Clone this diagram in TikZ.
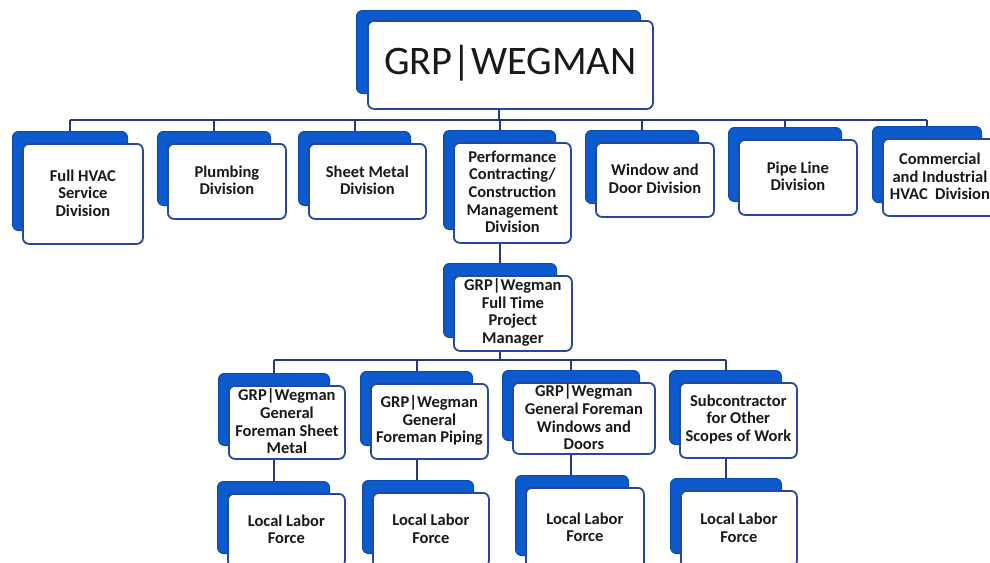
\documentclass[tikz,border=0pt]{standalone}
\usepackage{fontspec}
\setmainfont{Carlito}
\usetikzlibrary{calc}
\definecolor{backblue}{RGB}{12,90,204}
\definecolor{edgeblue}{RGB}{38,72,158}
\definecolor{linenavy}{RGB}{34,58,128}
\definecolor{txt}{RGB}{25,25,25}
\tikzset{
  backbox/.style={draw=backblue!85!black, line width=1pt, fill=backblue, rounded corners=6pt, inner sep=0pt},
  frontbox/.style={draw=edgeblue, line width=1.8pt, fill=white, rounded corners=6pt, inner sep=0pt},
  lbl/.style={align=center, text=txt, font=\fontsize{16.5}{17.6}\selectfont\bfseries, inner sep=0pt},
  conn/.style={draw=linenavy, line width=2pt}
}
% #1 name, #2 x1, #3 y1, #4 x2, #5 y2, #6 text
\newcommand\orgbox[6]{%
  \node[backbox, anchor=north west, minimum width={(#4-#2-5)*1pt}, minimum height={(#5-#3-1)*1pt}] (#1b) at ({#2-10},{#3-12}) {};
  \node[frontbox, anchor=north west, minimum width={(#4-#2)*1pt}, minimum height={(#5-#3)*1pt}] (#1f) at (#2,#3) {};
  \node[lbl] (#1t) at ($(#1f.center)+(0,-1)$) {#6};
}
\begin{document}
\begin{tikzpicture}[x=1pt,y=-1pt]
\useasboundingbox (0,0) rectangle (990,562);
\clip (0,0) rectangle (990,562);
\fill[white] (0,0) rectangle (990,562);

% title
\node[backbox, anchor=north west, minimum width=284pt, minimum height=83pt] (tb) at (356,10) {};
\node[frontbox, anchor=north west, minimum width=285pt, minimum height=88pt] (tf) at (367,20) {};
\node[text=txt, font=\fontsize{40.5}{42}\selectfont, inner sep=0pt] (tt) at ($(tf.center)+(0,-2)$) {GRP|WEGMAN};

% row 1
\orgbox{d1}{22}{143}{142}{243}{Full HVAC\\Service\\Division}
\orgbox{d2}{167}{143}{285}{218}{Plumbing\\Division}
\orgbox{d3}{308}{143}{425}{218}{Sheet Metal\\Division}
\orgbox{d4}{453}{142}{570}{242}{Performance\\Contracting/\\Construction\\Management\\Division}
\orgbox{d5}{595}{142}{713}{216}{Window and\\Door Division}
\orgbox{d6}{738}{139}{856}{214}{Pipe Line\\Division}
\orgbox{d7}{882}{138}{996}{215}{Commercial\\and Industrial\\HVAC~ Division}

% project manager
\orgbox{pm}{453}{275}{571}{350}{GRP|Wegman\\Full Time\\Project\\Manager}

% foremen
\orgbox{fa}{228}{385}{344}{458}{GRP|Wegman\\General\\Foreman Sheet\\Metal}
\orgbox{fb}{370}{383}{487}{458}{GRP|Wegman\\General\\Foreman Piping}
\orgbox{fc}{512}{382}{654}{453}{GRP|Wegman\\General Foreman\\Windows and\\Doors}
\orgbox{fd}{679}{382}{796}{457}{Subcontractor\\for Other\\Scopes of Work}

% local labor
\orgbox{la}{227}{493}{344}{566}{Local Labor\\Force}
\orgbox{lb}{372}{492}{488}{566}{Local Labor\\Force}
\orgbox{lc}{525}{487}{643}{568}{Local Labor\\Force}
\orgbox{ld}{680}{490}{796}{566}{Local Labor\\Force}

% bus 1
\coordinate (bus1) at (0,120);
\draw[conn] (d1b.north |- bus1) -- (d7b.north |- bus1);
\draw[conn] (tb.south |- tf.south) -- (tb.south |- bus1);
\foreach \n in {d1,d2,d3,d4,d5,d6,d7}{
  \draw[conn] (\n b.north |- bus1) -- (\n b.north);
}
% perf -> PM
\draw[conn] (d4b.south |- d4f.south) -- (d4b.south |- pmb.north);
% bus 2
\coordinate (bus2) at (0,360);
\draw[conn] (pmb.south |- pmf.south) -- (pmb.south |- bus2);
\draw[conn] (fab.north |- bus2) -- (fdb.north |- bus2);
\foreach \n in {fa,fb,fc,fd}{
  \draw[conn] (\n b.north |- bus2) -- (\n b.north);
}
% foremen -> labor
\draw[conn] (fab.south |- faf.south) -- (fab.south |- lab.north);
\draw[conn] (fbb.south |- fbf.south) -- (fbb.south |- lbb.north);
\draw[conn] (fcb.south |- fcf.south) -- (fcb.south |- lcb.north);
\draw[conn] (fdb.south |- fdf.south) -- (fdb.south |- ldb.north);
\end{tikzpicture}
\end{document}
